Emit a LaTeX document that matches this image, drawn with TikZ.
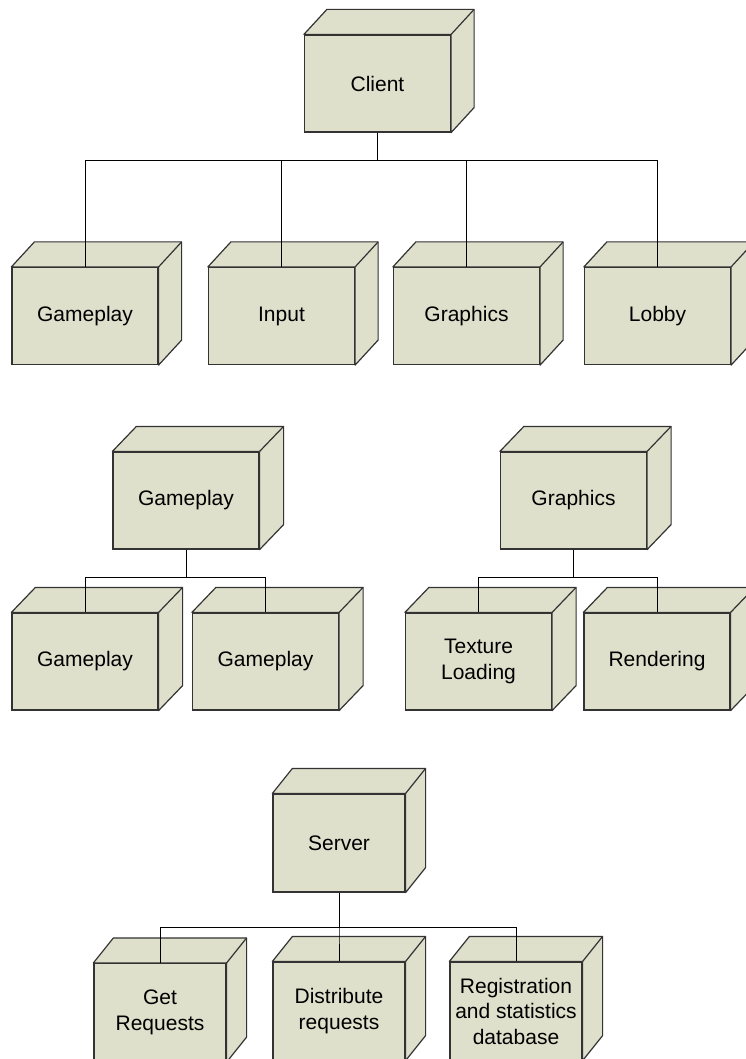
\documentclass[tikz,border=0pt]{standalone}
\usepackage{fontspec}
\setmainfont{Liberation Sans}
\usetikzlibrary{calc}
\definecolor{boxfill}{RGB}{222,224,203}
\begin{document}
\begin{tikzpicture}[x=1pt,y=-1pt,
  unit/.style={rectangle,draw=black!80,fill=boxfill,line width=1.2pt,minimum width=146pt,minimum height=97pt,inner sep=0pt,align=center,font=\fontsize{21}{25.5}\selectfont},
  srv/.style={unit,minimum width=132pt,minimum height=98pt},
  face/.style={draw=black!80,fill=boxfill,line width=1.2pt,line join=round},
  link/.style={draw=black,line width=0.9pt}]
       \clip (0,0) rectangle (746,1059);
       \node[unit] (client) at (377.5, 83.5) {Client};
       \node[unit] (gp) at (85, 316) {Gameplay};
       \node[unit] (input) at (281.5, 316) {Input};
       \node[unit] (gfx) at (466.5, 316) {Graphics};
       \node[unit] (lobby) at (657.5, 316) {Lobby};

       \node[unit] (gp2) at (186, 500.5) {Gameplay};
       \node[unit] (gpa) at (85, 661.5) {Gameplay};
       \node[unit] (gpb) at (265.5, 661.5) {Gameplay};
       \node[unit] (gfx2) at (573.5, 500.5) {Graphics};
       \node[unit] (tex) at (478.5, 661.5) {Texture\\Loading};
       \node[unit] (rend) at (657, 661.5) {Rendering};

       \node[srv] (server) at (339, 843) {Server};
       \node[srv] (getreq) at (160, 1012.5) {Get\\Requests};
       \node[srv] (distr) at (339, 1011) {Distribute\\requests};
       \node[srv] (reg) at (516, 1011) {Registration\\and statistics\\database};

       \foreach \n/\d in {client/23,gp/23,input/23,gfx/23,lobby/23,gp2/24,gpa/24,gpb/24,gfx2/24,tex/24,rend/24,server/20,getreq/20,distr/20,reg/20}{
         \filldraw[face] (\n.north west) -- ++(\d,-25) -- ($(\n.north east)+(\d,-25)$) -- ($(\n.south east)+(\d,-25)$) -- (\n.south east) -- (\n.north east) -- cycle;
         \draw[face] (\n.north east) -- ++(\d,-25);
       }

       \foreach \c in {gp,input,gfx,lobby}{\draw[link] (client.south) -- ++(0,28) -| (\c.north); }
       \foreach \c in {gpa,gpb}{\draw[link] (gp2.south) -- ++(0,28) -| (\c.north); }
       \foreach \c in {tex,rend}{\draw[link] (gfx2.south) -- ++(0,28) -| (\c.north); }
       \foreach \c in {getreq,distr,reg}{\draw[link] (server.south) -- ++(0,35) -| (\c.north); }
     \end{tikzpicture}
\end{document}
